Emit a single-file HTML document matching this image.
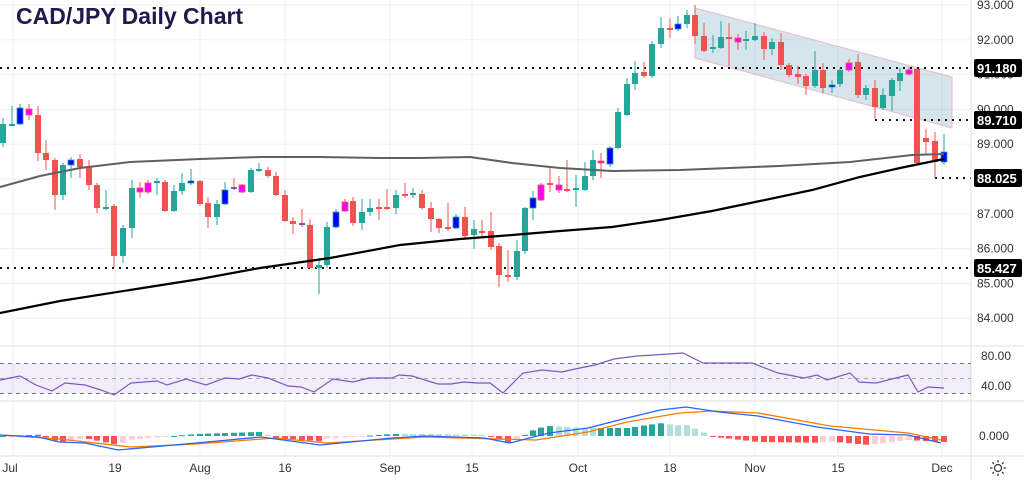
<!DOCTYPE html>
<html><head><meta charset="utf-8"><style>
html,body{margin:0;padding:0;background:#fff;width:1024px;height:480px;overflow:hidden}
svg text{font-family:"Liberation Sans",sans-serif}
</style></head><body>
<svg id="s" width="1024" height="480" xmlns="http://www.w3.org/2000/svg">
<g id="grid" stroke="#eef0f3" stroke-width="1"></g>
<polygon points="695,8 952,77 952,128 695,58" fill="rgba(120,170,190,0.3)" stroke="#e8b9cc" stroke-width="1"/>
<g id="hl" stroke="#111" stroke-width="2" stroke-dasharray="2,5"></g>
<g id="cd"></g>
<polyline id="ma1" fill="none" stroke="#5f5f66" stroke-width="2"/>
<polyline id="ma2" fill="none" stroke="#000" stroke-width="2.2"/>
<line x1="0" y1="346" x2="1024" y2="346" stroke="#dcdfe4"/>
<line x1="0" y1="401" x2="1024" y2="401" stroke="#dcdfe4"/>
<line x1="0" y1="456" x2="1024" y2="456" stroke="#dcdfe4"/>
<line x1="971" y1="0" x2="971" y2="480" stroke="#dcdfe4"/>
<rect x="0" y="363.5" width="971" height="30" fill="rgba(126,87,194,0.1)"/>
<g stroke="#777" stroke-dasharray="4,4" stroke-width="1">
<line x1="0" y1="363.5" x2="971" y2="363.5"/><line x1="0" y1="378.5" x2="971" y2="378.5" stroke="#aaa"/><line x1="0" y1="393.5" x2="971" y2="393.5"/></g>
<polyline id="rsi" fill="none" stroke="#7e57c2" stroke-width="1.2"/>
<g id="hist"></g>
<polyline id="sig" fill="none" stroke="#f57c00" stroke-width="1.3"/>
<polyline id="macd" fill="none" stroke="#2962ff" stroke-width="1.3"/>
<g id="ax" font-size="12" fill="#333"></g>
<text x="16" y="24" font-size="23" font-weight="bold" fill="#1e1a4d">CAD/JPY Daily Chart</text>
<g transform="translate(998,468)" stroke="#333" stroke-width="1.2" fill="none">
<circle r="3.5"/><line x1="0" y1="-8" x2="0" y2="-5.5"/><line x1="0" y1="8" x2="0" y2="5.5"/><line x1="-8" y1="0" x2="-5.5" y2="0"/><line x1="8" y1="0" x2="5.5" y2="0"/>
<line x1="-5.7" y1="-5.7" x2="-4" y2="-4"/><line x1="5.7" y1="5.7" x2="4" y2="4"/><line x1="-5.7" y1="5.7" x2="-4" y2="4"/><line x1="5.7" y1="-5.7" x2="4" y2="-4"/></g>
</svg>
<script>
var NS="http://www.w3.org/2000/svg";
function el(p,t,a,txt){var e=document.createElementNS(NS,t);for(var k in a)e.setAttribute(k,a[k]);if(txt!=null)e.textContent=txt;document.getElementById(p).appendChild(e);return e;}
var py=function(p){return 5+(93-p)*34.8;};
// grid
[13,115,200,285,390,472,578,670,755,838,942].forEach(function(x){el('grid','line',{x1:x,y1:0,x2:x,y2:456});});
[93,92,91,90,89,88,87,86,85,84].forEach(function(p){el('grid','line',{x1:0,y1:py(p),x2:971,y2:py(p)});});
// dotted levels
el('hl','line',{x1:0,y1:68,x2:971,y2:68});
el('hl','line',{x1:875,y1:120,x2:971,y2:120});
el('hl','line',{x1:935,y1:178,x2:971,y2:178});
el('hl','line',{x1:0,y1:268,x2:971,y2:268});
var C={g:'#26a69a',r:'#ef5350',b:'#0000ff',m:'#ff00ff',p:'#7e57c2'};
var D=[[3,124,143,118,147,'g'],[12,124,126,106,126,'g'],[20,108,124,104,125,'b'],[29,109,115,104,120,'m'],[38,115,153,106,161,'r'],[46,153,160,140,170,'r'],[55,160,195,158,210,'r'],[63,165,195,163,200,'g'],[71,160,165,157,178,'b'],[80,159,167,154,178,'r'],[89,166,185,160,190,'r'],[97,185,208,183,213,'r'],[106,207,209,190,210,'g'],[114,206,256,204,268,'r'],[123,228,256,225,263,'g'],[132,188,228,180,238,'g'],[140,188,192,182,198,'m'],[148,183,192,180,194,'m'],[157,181,183,178,195,'g'],[165,182,211,180,212,'r'],[174,191,211,185,212,'g'],[182,183,191,173,195,'g'],[191,181,183,169,185,'b'],[200,181,204,180,206,'r'],[208,203,217,197,228,'r'],[217,204,217,200,225,'g'],[225,190,204,182,205,'b'],[234,187,189,178,190,'p'],[242,185,192,184,193,'m'],[251,170,192,168,193,'g'],[259,169,171,163,172,'g'],[268,170,176,167,178,'r'],[276,176,195,172,196,'r'],[285,195,221,190,222,'r'],[293,221,224,217,234,'r'],[302,223,225,209,227,'p'],[310,225,268,219,268,'r'],[319,265,268,258,294,'g'],[327,227,265,222,268,'g'],[336,212,227,209,228,'b'],[345,202,211,199,212,'m'],[353,201,223,197,226,'r'],[362,212,223,199,230,'g'],[370,208,212,199,216,'g'],[379,207,209,199,220,'r'],[387,207,209,189,210,'r'],[396,195,208,190,214,'g'],[405,194,196,183,198,'r'],[413,193,195,188,198,'g'],[422,194,208,190,210,'r'],[431,208,219,202,232,'r'],[439,219,228,218,233,'r'],[448,227,229,203,231,'r'],[456,217,228,214,229,'b'],[465,217,236,207,238,'r'],[474,229,235,220,249,'g'],[482,231,233,220,237,'r'],[491,231,247,212,250,'r'],[499,246,275,243,287,'r'],[508,275,277,250,282,'r'],
[517,251,277,240,280,'g'],[525,208,251,207,254,'g'],[533,198,208,191,220,'b'],[541,185,200,183,201,'m'],[550,183,185,168,192,'r'],[559,185,190,176,193,'m'],[567,189,191,160,192,'r'],[576,188,190,175,207,'g'],[585,176,190,162,191,'g'],[593,160,176,150,180,'g'],[601,161,163,153,178,'m'],[610,148,164,146,167,'b'],[618,112,148,108,149,'g'],[627,84,115,78,116,'g'],[635,73,84,61,90,'g'],[644,72,76,62,78,'r'],[652,44,76,41,78,'g'],[661,28,44,17,48,'g'],[670,28,30,18,38,'r'],[678,24,29,16,31,'b'],[687,15,24,10,28,'g'],[695,15,36,5,44,'r'],[704,36,51,23,52,'r'],[713,47,49,35,53,'g'],[721,37,48,21,49,'g'],[729,37,39,23,66,'r'],[738,38,42,34,50,'m'],[746,39,41,31,50,'g'],[755,36,40,23,41,'g'],[764,36,49,32,60,'r'],[772,42,49,38,55,'g'],[781,42,65,33,70,'r'],[789,65,75,63,77,'r'],[798,74,77,66,84,'r'],[806,76,86,74,95,'r'],[815,70,86,51,88,'g'],[823,70,88,63,93,'r'],[832,85,87,80,93,'b'],[840,70,84,68,87,'g'],[849,63,70,59,72,'m'],[858,62,95,54,98,'r'],[866,88,95,85,100,'g'],[875,88,107,80,119,'r'],[883,95,108,88,110,'g'],[892,80,96,78,111,'g'],[900,73,81,68,91,'g'],[909,70,74,67,76,'m'],[917,69,163,68,165,'r'],[926,138,142,129,155,'r'],[935,141,162,132,178,'r'],[944,152,162,134,165,'b']];
D.forEach(function(d){var c=C[d[5]];var wc=(d[5]=='b'||d[5]=='m'||d[5]=='p')?(d[5]=='b'?'#26a69a':'#ef5350'):c;
el('cd','line',{x1:d[0],y1:d[3],x2:d[0],y2:d[4],stroke:wc,'stroke-width':1});
var h=Math.max(d[2]-d[1],1.5);el('cd','rect',{x:d[0]-3,y:d[1],width:6,height:h,fill:c,stroke:(d[5]=='b'||d[5]=='m')?wc:'none','stroke-width':0.8});});
function pts(a){return a.map(function(p){return p[0]+','+p[1];}).join(' ');}
document.getElementById('ma1').setAttribute('points',pts([[0,187],[40,176],[80,168],[130,162],[200,159],[260,157],[320,157],[380,158],[420,158],[470,157],[512,163],[560,168],[612,171],[680,170],[779,166],[850,162],[912,155],[944,154]]));
document.getElementById('ma2').setAttribute('points',pts([[0,313],[60,301],[130,290],[200,279],[260,268],[330,258],[400,245],[460,239],[512,235],[560,231],[612,227],[660,220],[712,211],[760,201],[812,190],[860,177],[900,168],[944,159]]));
document.getElementById('rsi').setAttribute('points',pts([[0,380],[20,376],[36,385],[52,391],[65,383],[85,385],[101,390],[114,395],[131,383],[157,381],[167,385],[186,379],[206,385],[225,378],[239,379],[252,375],[268,378],[288,386],[301,387],[314,392],[333,379],[353,382],[369,378],[392,378],[399,375],[412,376],[438,384],[451,384],[464,382],[477,383],[490,383],[503,393],[523,373],[542,370],[562,372],[575,369],[595,365],[614,359],[637,356],[654,355],[683,353],[703,363],[722,363],[752,363],[778,373],[804,378],[817,375],[827,380],[850,373],[859,382],[876,383],[908,375],[918,392],[928,387],[944,388]]));
var M=[[0,435],[39,437],[59,442],[85,443],[118,450],[163,446],[196,443],[261,437],[320,445],[392,438],[425,436],[484,438],[510,443],[549,433],[588,428],[627,418],[660,410],[686,407],[719,412],[758,416],[817,427],[869,434],[908,435],[941,443]];
var S=[[0,435],[59,439],[131,447],[196,444],[275,438],[327,443],[425,437],[497,439],[536,440],[588,432],[627,422],[680,413],[712,411],[758,413],[830,426],[908,433],[941,440]];
document.getElementById('macd').setAttribute('points',pts(M));
document.getElementById('sig').setAttribute('points',pts(S));
function interp(a,x){for(var i=1;i<a.length;i++){if(x<=a[i][0]){var t=(x-a[i-1][0])/(a[i][0]-a[i-1][0]);return a[i-1][1]+t*(a[i][1]-a[i-1][1]);}}return a[a.length-1][1];}
var prev=0;D.forEach(function(d){var v=(interp(S,d[0])-interp(M,d[0]))*2;var col;
if(v>=0)col=v>=prev?'#26a69a':'#b2dfdb';else col=v<=prev?'#ff5252':'#ffcdd2';prev=v;
var y=v>=0?436-v:436;el('hist','rect',{x:d[0]-3,y:y,width:6,height:Math.max(Math.abs(v),1),fill:col});});
// axis labels
[[93,'93.000'],[92,'92.000'],[91,'91.000'],[90,'90.000'],[89,'89.000'],[87,'87.000'],[86,'86.000'],[85,'85.000'],[84,'84.000']].forEach(function(a){el('ax','text',{x:977,y:py(a[0])+4},a[1]);});
[[68,'91.180'],[120,'89.710'],[178,'88.025'],[268,'85.427']].forEach(function(a){el('ax','rect',{x:974,y:a[0]-9,width:48,height:18,fill:'#000',rx:2});el('ax','text',{x:977,y:a[0]+5,fill:'#fff','font-weight':'bold','font-size':13},a[1]);});
el('ax','text',{x:981,y:360},'80.00');el('ax','text',{x:981,y:390},'40.00');el('ax','text',{x:979,y:440},'0.000');
[[10,'Jul'],[115,'19'],[200,'Aug'],[285,'16'],[390,'Sep'],[472,'15'],[578,'Oct'],[670,'18'],[755,'Nov'],[838,'15'],[942,'Dec']].forEach(function(a){el('ax','text',{x:a[0],y:472,'text-anchor':'middle'},a[1]);});
</script>
</body></html>
